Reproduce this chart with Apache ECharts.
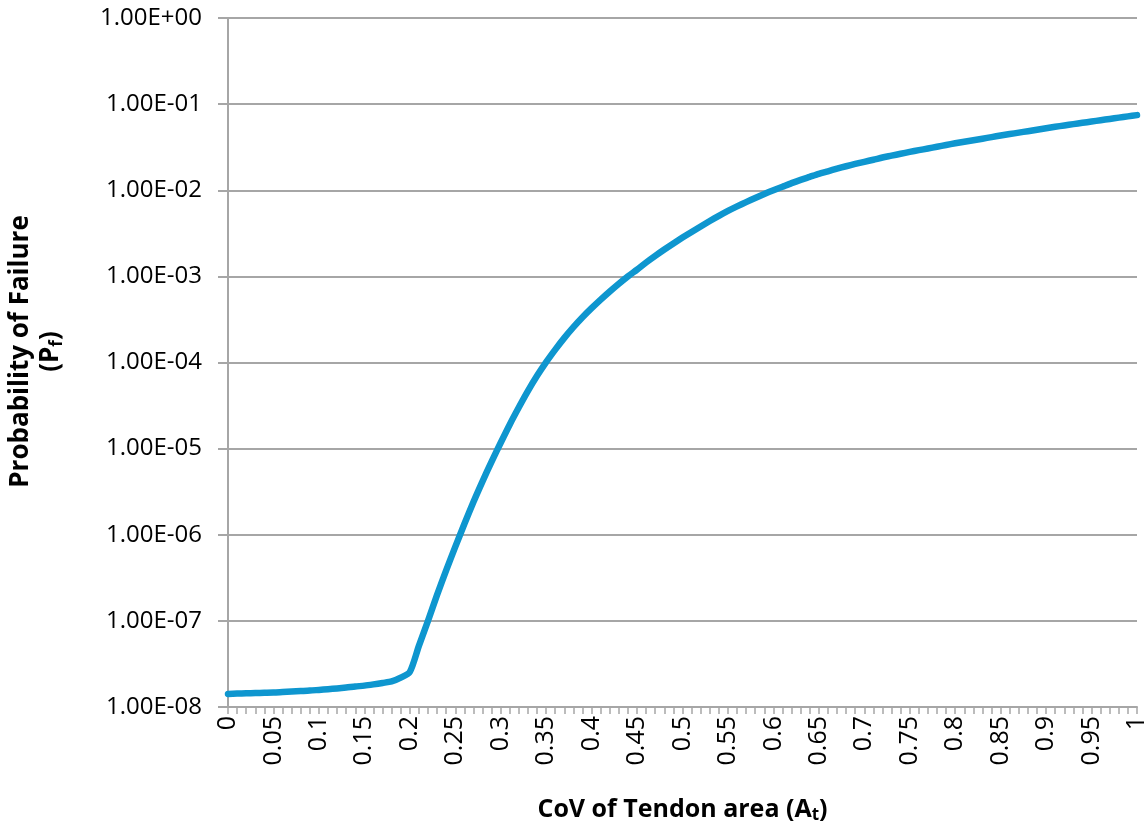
<!DOCTYPE html>
<html>
<head>
<meta charset="utf-8">
<script src="https://cdn.jsdelivr.net/npm/echarts@6/dist/echarts.min.js"></script>
<style>
  html, body { margin: 0; padding: 0; background: #ffffff; }
  #chart { width: 1146px; height: 836px; }
</style>
</head>
<body>
<div id="chart"></div>
<script>
// Coefficient of variation of tendon area (one category per 0.01 step)
const covCategories = [
  '0', '0.01', '0.02', '0.03', '0.04', '0.05', '0.06', '0.07', '0.08', '0.09',
  '0.1', '0.11', '0.12', '0.13', '0.14', '0.15', '0.16', '0.17', '0.18', '0.19',
  '0.2', '0.21', '0.22', '0.23', '0.24', '0.25', '0.26', '0.27', '0.28', '0.29',
  '0.3', '0.31', '0.32', '0.33', '0.34', '0.35', '0.36', '0.37', '0.38', '0.39',
  '0.4', '0.41', '0.42', '0.43', '0.44', '0.45', '0.46', '0.47', '0.48', '0.49',
  '0.5', '0.51', '0.52', '0.53', '0.54', '0.55', '0.56', '0.57', '0.58', '0.59',
  '0.6', '0.61', '0.62', '0.63', '0.64', '0.65', '0.66', '0.67', '0.68', '0.69',
  '0.7', '0.71', '0.72', '0.73', '0.74', '0.75', '0.76', '0.77', '0.78', '0.79',
  '0.8', '0.81', '0.82', '0.83', '0.84', '0.85', '0.86', '0.87', '0.88', '0.89',
  '0.9', '0.91', '0.92', '0.93', '0.94', '0.95', '0.96', '0.97', '0.98', '0.99',
  '1'
];

// Probability of failure for each CoV value
const failureProbability = [
  1.42e-8, 1.43e-8, 1.44e-8, 1.45e-8, 1.46e-8, 1.47e-8, 1.49e-8, 1.51e-8, 1.53e-8, 1.55e-8,
  1.58e-8, 1.61e-8, 1.64e-8, 1.68e-8, 1.73e-8, 1.77e-8, 1.83e-8, 1.90e-8, 1.98e-8, 2.19e-8,
  2.55e-8, 5.13e-8, 1.00e-7, 2.00e-7, 3.85e-7, 7.24e-7, 1.33e-6, 2.40e-6, 4.17e-6, 7.08e-6,
  1.17e-5, 1.91e-5, 3.02e-5, 4.68e-5, 7.00e-5, 1.01e-4, 1.41e-4, 1.93e-4, 2.57e-4, 3.35e-4,
  4.27e-4, 5.37e-4, 6.68e-4, 8.22e-4, 1.00e-3, 1.20e-3, 1.45e-3, 1.73e-3, 2.05e-3, 2.41e-3,
  2.82e-3, 3.28e-3, 3.80e-3, 4.39e-3, 5.04e-3, 5.75e-3, 6.49e-3, 7.28e-3, 8.13e-3, 9.04e-3,
  1.00e-2, 1.10e-2, 1.21e-2, 1.32e-2, 1.43e-2, 1.55e-2, 1.66e-2, 1.78e-2, 1.90e-2, 2.02e-2,
  2.14e-2, 2.26e-2, 2.40e-2, 2.52e-2, 2.65e-2, 2.79e-2, 2.92e-2, 3.05e-2, 3.20e-2, 3.35e-2,
  3.51e-2, 3.66e-2, 3.81e-2, 3.97e-2, 4.14e-2, 4.32e-2, 4.49e-2, 4.67e-2, 4.85e-2, 5.05e-2,
  5.25e-2, 5.45e-2, 5.65e-2, 5.86e-2, 6.07e-2, 6.28e-2, 6.50e-2, 6.73e-2, 6.97e-2, 7.21e-2,
  7.45e-2
];

// Labelled x ticks (every fifth category)
const xTickLabels = [
  '0', '0.05', '0.1', '0.15', '0.2', '0.25', '0.3', '0.35', '0.4', '0.45',
  '0.5', '0.55', '0.6', '0.65', '0.7', '0.75', '0.8', '0.85', '0.9', '0.95', '1'
];

// Decade bounds of the logarithmic y axis
const yMin = 1e-8;
const yMax = 1;

const axisGray = '#a6a6a6';
const labelFont = 'Open Sans';

function sci(v) {
  const exp = Math.round(Math.log10(v));
  const mant = v / Math.pow(10, exp);
  const sign = exp < 0 ? '-' : '+';
  const e = String(Math.abs(exp)).padStart(2, '0');
  return mant.toFixed(2) + 'E' + sign + e;
}

const chart = echarts.init(document.getElementById('chart'));
chart.setOption({
  animation: false,
  backgroundColor: '#ffffff',
  grid: { left: 228, right: 9, top: 18, bottom: 129, containLabel: false, outerBoundsMode: 'none' },
  xAxis: {
    type: 'category',
    data: covCategories,
    boundaryGap: false,
    axisLine: { lineStyle: { color: axisGray, width: 2 } },
    axisTick: { show: true, interval: 0, length: 7, lineStyle: { color: axisGray, width: 1.5 } },
    axisLabel: {
      interval: 0,
      rotate: 90,
      margin: 9,
      fontFamily: labelFont,
      fontSize: 25,
      color: '#000000',
      formatter: function (v) { return xTickLabels.indexOf(v) >= 0 ? v : ''; }
    },
    splitLine: { show: false },
    name: 'CoV of Tendon area (A{sub|t})',
    nameLocation: 'middle',
    nameGap: 88,
    nameTextStyle: {
      fontFamily: labelFont,
      fontWeight: 'bold',
      fontSize: 25,
      color: '#000000',
      rich: {
        sub: { fontFamily: labelFont, fontWeight: 'bold', fontSize: 17, color: '#000000', padding: [12, 0, 0, 0] }
      }
    }
  },
  yAxis: {
    type: 'log',
    logBase: 10,
    min: yMin,
    max: yMax,
    axisLine: { show: true, lineStyle: { color: axisGray, width: 2 } },
    axisTick: { show: true, length: 10, lineStyle: { color: axisGray, width: 2 } },
    minorTick: { show: false },
    axisLabel: {
      margin: 26,
      fontFamily: labelFont,
      fontSize: 24,
      color: '#000000',
      formatter: function (v) { return sci(v); }
    },
    splitLine: { show: true, lineStyle: { color: axisGray, width: 2 } },
    name: 'Probability of Failure\n(P{sub|f})',
    nameLocation: 'middle',
    nameRotate: 90,
    nameGap: 162,
    nameTextStyle: {
      fontFamily: labelFont,
      fontWeight: 'bold',
      fontSize: 26,
      lineHeight: 30,
      color: '#000000',
      align: 'center',
      padding: [0, 0, 0, 22],
      rich: {
        sub: { fontFamily: labelFont, fontWeight: 'bold', fontSize: 17, color: '#000000', padding: [12, 0, 0, 0] }
      }
    }
  },
  series: [{
    type: 'line',
    data: failureProbability,
    showSymbol: false,
    smooth: 0.25,
    lineStyle: { color: '#0e96cf', width: 6.5, cap: 'round', join: 'round' },
    itemStyle: { color: '#0e96cf' }
  }]
});
</script>
</body>
</html>
